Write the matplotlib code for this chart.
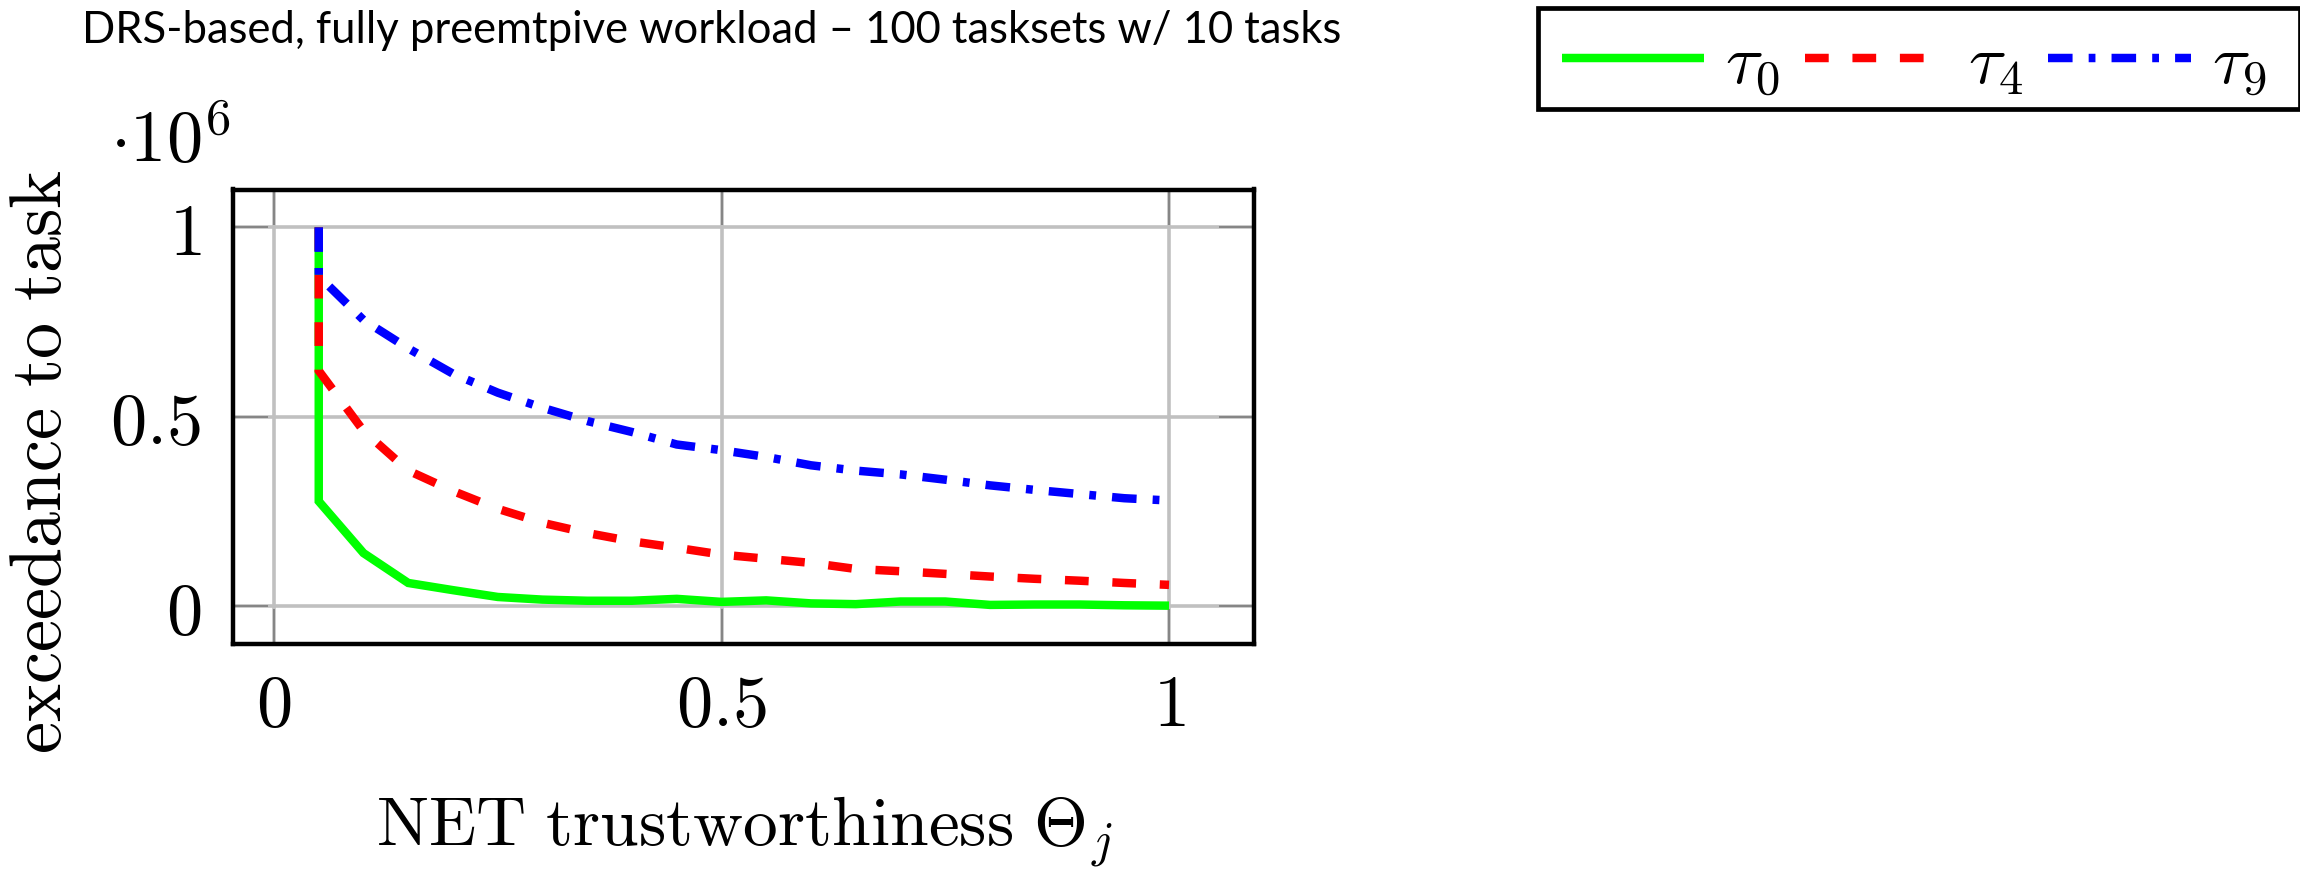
import matplotlib
matplotlib.use("Agg")
import matplotlib.pyplot as plt
from matplotlib.patches import Rectangle
from matplotlib.ticker import FixedLocator, FuncFormatter

plt.rcParams['mathtext.fontset'] = 'cm'

# NET trustworthiness values (the first point repeats 0.05: capped value, then measured value)
theta = [0.05, 0.05, 0.10, 0.15, 0.20, 0.25, 0.30, 0.35, 0.40, 0.45, 0.50,
         0.55, 0.60, 0.65, 0.70, 0.75, 0.80, 0.85, 0.90, 0.95, 1.00]

# exceedance to task, per task
exceed_tau0 = [1000000, 276000, 139000, 60000, 41000, 23000, 16000, 13000, 13000, 18000, 10000,
               14000, 6000, 4000, 11000, 11000, 2000, 3000, 3000, 1000, 0]
exceed_tau4 = [1000000, 621000, 462000, 357000, 303000, 256000, 219000, 192000, 170000, 153000, 135000,
               124000, 113000, 97000, 91000, 84000, 77000, 71000, 66000, 60000, 55000]
exceed_tau9 = [1000000, 871000, 755000, 680000, 613000, 563000, 523000, 488000, 459000, 426000, 411000,
               393000, 371000, 357000, 347000, 333000, 318000, 306000, 295000, 284000, 278000]

series_labels = [r'$\tau_0$', r'$\tau_4$', r'$\tau_9$']
x_ticks = [0, 0.5, 1]
y_ticks = [0, 500000, 1000000]
title_text = "DRS-based, fully preemtpive workload \u2013 100 tasksets w/ 10 tasks"
x_label = r'$\mathrm{NET\ trustworthiness\ }\Theta_j$'
y_label = r'$\mathrm{exceedance\ to\ task}$'

W, H, DPI = 2300, 870, 100
fig = plt.figure(figsize=(W / DPI, H / DPI), dpi=DPI)


def px_box(left, top, right, bottom):
    return [left / W, 1 - bottom / H, (right - left) / W, (bottom - top) / H]


ax = fig.add_axes(px_box(233, 190.5, 1253.5, 644.5))

LW = 6.1
ax.plot(theta, exceed_tau0, color='#00ff00', lw=LW, solid_capstyle='butt',
        solid_joinstyle='miter', label=series_labels[0])
ax.plot(theta, exceed_tau4, color='#ff0000', lw=LW, linestyle=(0, (2.8, 2.8)),
        dash_capstyle='butt', dash_joinstyle='miter', label=series_labels[1])
ax.plot(theta, exceed_tau9, color='#0000ff', lw=LW, linestyle=(0, (2.9, 1.9, 0.8, 1.9)),
        dash_capstyle='butt', dash_joinstyle='miter', label=series_labels[2])

ax.set_xlim(-0.0458, 1.0944)
ax.set_ylim(-100000, 1100000)

ax.xaxis.set_major_locator(FixedLocator(x_ticks))
ax.yaxis.set_major_locator(FixedLocator(y_ticks))
ax.xaxis.set_major_formatter(FuncFormatter(lambda v, p: f'${v:g}$'))
ax.yaxis.set_major_formatter(FuncFormatter(lambda v, p: f'${v / 1e6:g}$'))

ax.set_axisbelow(True)
ax.grid(True, color='#c0c0c0', lw=2.6)
ax.tick_params(direction='in', length=25, width=1.3, color='#808080',
               top=True, right=True, labelsize=52)
ax.tick_params(axis='x', pad=20)
ax.tick_params(axis='y', pad=23)
for s in ax.spines.values():
    s.set_linewidth(3.2)
    s.set_color('black')

# axis labels and scale factor
fig.text(42 / W, 1 - 462 / H, y_label, rotation=90, ha='center', va='center', fontsize=52)
fig.text(744 / W, 1 - 847 / H, x_label, ha='center', va='baseline', fontsize=50)
fig.text(110 / W, 1 - 162 / H, r'$\cdot10^{6}$', ha='left', va='baseline', fontsize=52)

# title, sized to its intended width
title = fig.text(82 / W, 1 - 43 / H, title_text, ha='left', va='baseline',
                 fontsize=34, fontfamily='Lato')
renderer = fig.canvas.get_renderer()
tw = title.get_window_extent(renderer).width
title.set_fontsize(34 * 1264 / tw)

# legend entries in a single row, with a separate box around them
leg = fig.legend(loc='center left', bbox_to_anchor=(1562 / W, 1 - 64 / H), ncol=3,
                 fontsize=50, frameon=False, borderaxespad=0, borderpad=0,
                 handlelength=2.05, handletextpad=0.30, columnspacing=0.36)
fig.patches.append(Rectangle((1537.5 / W, 1 - 109.5 / H), (2300 - 1537.5) / W, 100.5 / H,
                             transform=fig.transFigure, fill=False, edgecolor='black',
                             linewidth=3.4, zorder=5))

fig.savefig('out.png', dpi=DPI)
